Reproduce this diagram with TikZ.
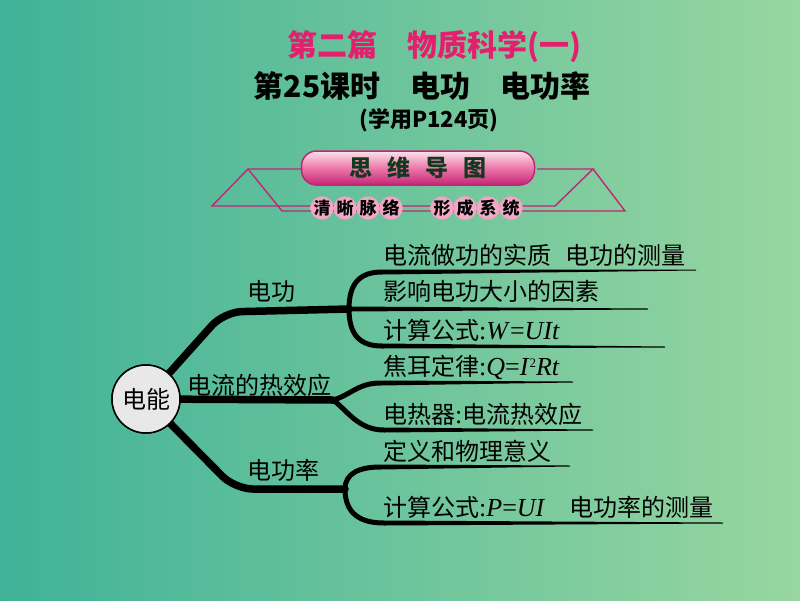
\documentclass[tikz,border=0pt]{standalone}
\usepackage{fontspec}
\usepackage{tikz}
\usetikzlibrary{positioning,calc,shapes}
\newfontfamily\cjk{Noto Sans CJK SC}
\newfontfamily\tnr{Liberation Serif}
\definecolor{bgteal}{RGB}{64,178,152}
\definecolor{bggreen}{RGB}{152,214,160}
\definecolor{titlepink}{RGB}{228,32,110}
\definecolor{banmag}{RGB}{196,36,118}
\definecolor{banlight}{RGB}{252,226,236}
\definecolor{banmid}{RGB}{236,120,170}
\definecolor{dotpink}{RGB}{240,162,194}
\definecolor{inkgreen}{RGB}{18,56,30}
\definecolor{ballgray}{RGB}{232,232,232}
\newcommand{\fm}[1]{{\tnr\fontsize{26}{28}\selectfont #1}}
\newcommand{\sq}{\raisebox{8pt}{\fontsize{13}{14}\selectfont 2}}
% tapered end of a twig
\newcommand{\taper}[2]{\fill let \p1=(#1), \p2=(#2) in (\x1,\y1+2.5pt) -- (\x2,\y2+0.5pt) -- (\x2,\y2-0.5pt) -- (\x1,\y1-2.5pt) -- cycle;}
\tikzstyle{titletext} = [inner sep=0pt, font=\cjk\bfseries\fontsize{30}{33}\selectfont]
\tikzstyle{ornament} = [draw=banmag, line width=1.4pt]
\tikzstyle{banner} = [rectangle, rounded corners=15pt, minimum width=233pt, minimum height=34pt, draw=banmag, line width=1.5pt, top color=banlight, bottom color=banmag, middle color=banmid]
\tikzstyle{dot} = [circle, minimum size=21pt, inner sep=0pt, inner color=white!30!dotpink, outer color=dotpink, font=\cjk\bfseries\fontsize{17}{19}\selectfont]
\tikzstyle{rootball} = [circle, minimum size=68pt, inner sep=0pt, draw=black, line width=1.5pt, fill=ballgray, font=\cjk\fontsize{24}{26}\selectfont]
\tikzstyle{limb} = [line width=7.5pt, rounded corners=18pt, line cap=round]
\tikzstyle{twig} = [line width=5pt]
\tikzstyle{leaf} = [anchor=west, inner sep=0pt, font=\cjk\fontsize{24}{27}\selectfont]
\tikzstyle{stem} = [inner sep=0pt, font=\cjk\fontsize{24}{27}\selectfont]

\begin{document}
\begin{tikzpicture}[x=1pt, y=-1pt]
\useasboundingbox (0,0) rectangle (800,600);
\shade[left color=bgteal, right color=bggreen] (0,0) rectangle (800,600);

% Title
\node[titletext, text=titlepink] (part) at (434,47) {第二篇\quad 物质科学(一)};
\node[titletext] (lesson) at (422,86) {第25课时\quad 电功\quad 电功率};
\node[titletext, font=\cjk\bfseries\fontsize{22}{24}\selectfont] (page) at (429,120) {(学用P124页)};

% Banner
\draw[ornament] (302,169) -- (248,169) -- (212,206) -- (555,206) -- (593,169) -- (537,169);
\draw[ornament] (248,169) -- (282,211) -- (625,211) -- (593,169);
\node[banner] (mapbanner) at (418,168) {};
\node[inner sep=0pt, text=inkgreen, font=\cjk\bfseries\fontsize{23}{25}\selectfont] (maptitle) at (mapbanner) {思\hskip15pt 维\hskip15pt 导\hskip15pt 图};
\foreach \ch/\x [count=\i] in {清/322,晰/345,脉/368,络/391,形/442,成/465,系/488,统/511}
  \node[dot] (s\i) at (\x,208) {\ch};

% Mind map
\coordinate (j1) at (349,309);
\coordinate (j2) at (333,400);
\coordinate (j3) at (345,489);
\coordinate (b1a) at (382,272);
\coordinate (b1c) at (382,346);
\coordinate (b2a) at (380,383);
\coordinate (b2b) at (384,430);
\coordinate (b3a) at (380,467);
\coordinate (b3b) at (384,523);
\coordinate (e1a) at (696,270);
\coordinate (e1b) at (648,309);
\coordinate (e1c) at (665,347);
\coordinate (e2a) at (573,382);
\coordinate (e2b) at (593,430);
\coordinate (e3a) at (570,466);
\coordinate (e3b) at (723,523);

\node[rootball] (root) at (146,399) {};
\draw[limb] (root.center) -- (224,312) -- (j1);
\draw[limb] (root.center) -- (j2);
\draw[limb] (root.center) -- (235,489) -- (j3);

\draw[twig] (j1) .. controls +(0,-26) and +(-22,0) .. (b1a);
\draw[twig] (j1) .. controls +(0,26) and +(-22,0) .. (b1c);
\draw[twig] (j2) .. controls +(16,-4) and +(-22,0) .. (b2a);
\draw[twig] (j2) .. controls +(14,10) and +(-26,0) .. (b2b);
\draw[twig] (j3) .. controls +(0,-16) and +(-20,0) .. (b3a);
\draw[twig] (j3) .. controls +(0,26) and +(-22,0) .. (b3b);
\taper{b1a}{e1a}
\taper{j1}{e1b}
\taper{b1c}{e1c}
\taper{b2a}{e2a}
\taper{b2b}{e2b}
\taper{b3a}{e3a}
\taper{b3b}{e3b}

\node[rootball] (rootball) at (root) {电能};

\node[stem] (work) at (271,291) {电功};
\node[stem, anchor=west] (heat) at (187,385) {电流的热效应};
\node[stem] (power) at (283,470) {电功率};

\node[leaf] (l1a) at (383,255) {电流做功的实质\hspace{0.6em}电功的测量};
\node[leaf] (l1b) at (383,291) {影响电功大小的因素};
\node[leaf] (l1c) at (383,330) {计算公式\fm{:\textit{W}=\textit{UIt}}};
\node[leaf] (l2a) at (383,367) {焦耳定律\fm{:\textit{Q}=\textit{I}\sq\textit{Rt}}};
\node[leaf] (l2b) at (383,414) {电热器\fm{:}电流热效应};
\node[leaf] (l3a) at (383,451) {定义和物理意义};
\node[leaf] (l3b) at (383,507) {计算公式\fm{:\textit{P}=\textit{UI}}\hspace{1em}电功率的测量};
\end{tikzpicture}
\end{document}
